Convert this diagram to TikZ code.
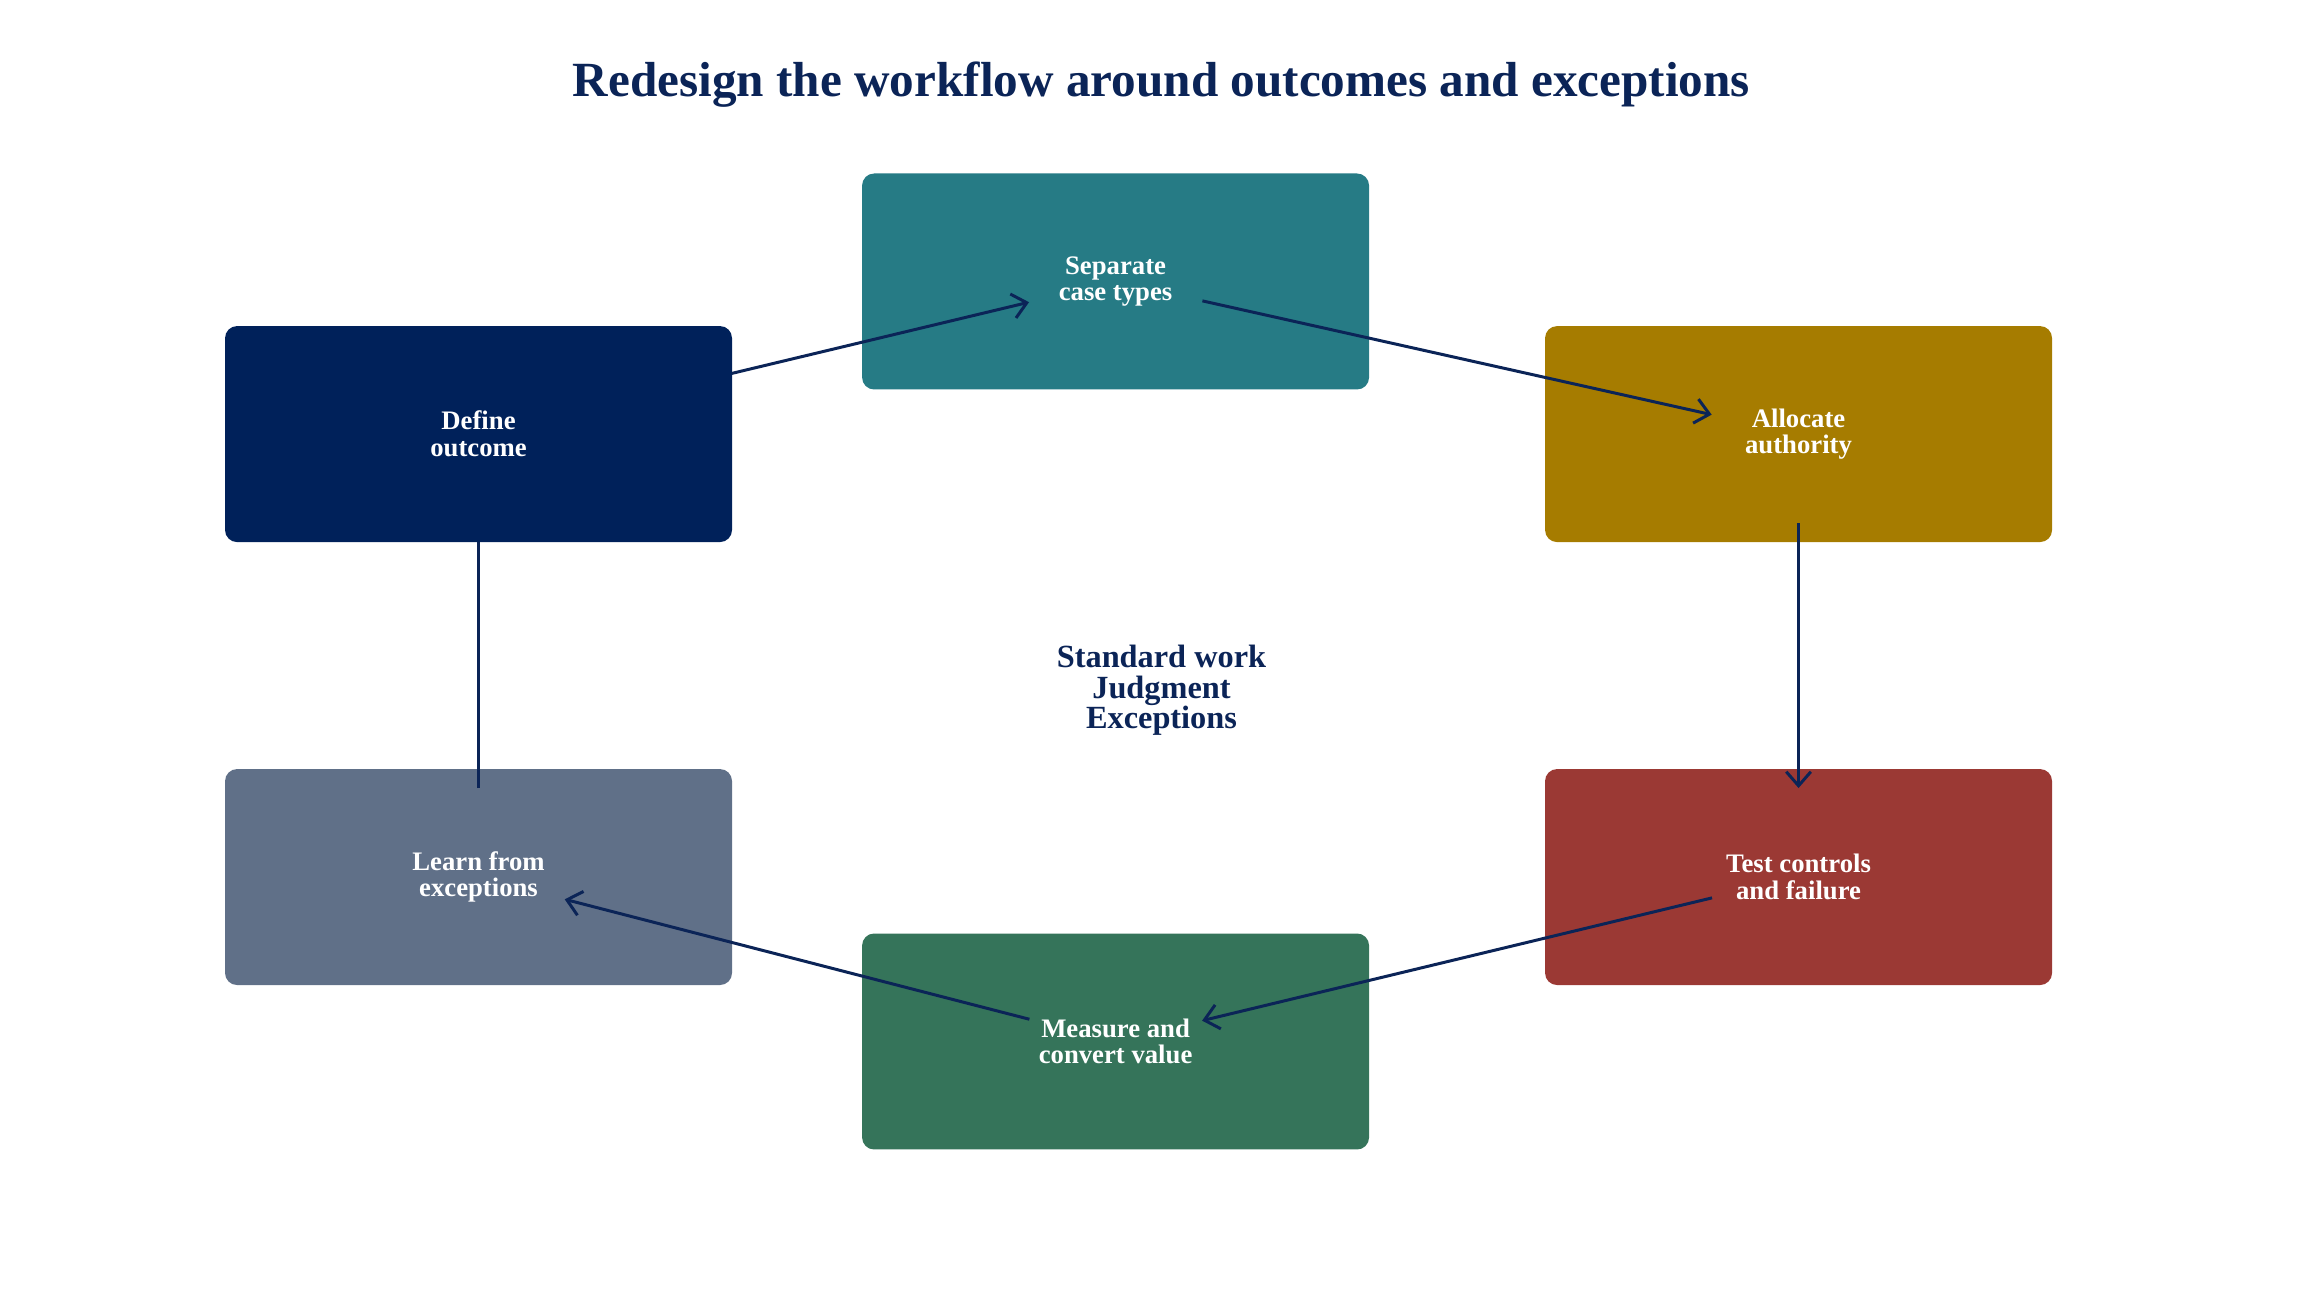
\documentclass[tikz,border=0pt]{standalone}
\usepackage{fontspec}
\setmainfont{Liberation Serif}
\usetikzlibrary{arrows.meta}
\definecolor{navy}{HTML}{00215A}
\definecolor{teal}{HTML}{267B85}
\definecolor{ochre}{HTML}{A67C00}
\definecolor{brick}{HTML}{9B3934}
\definecolor{forest}{HTML}{35745A}
\definecolor{slate}{HTML}{607088}
\definecolor{ink}{HTML}{0B2457}
\pgfdeclarelayer{front}
\pgfsetlayers{main,front}
\begin{document}
\begin{tikzpicture}[x=0.014815cm, y=-0.014815cm,
  stage/.style={rounded corners=0.12cm, minimum width=5.07cm, minimum height=2.16cm,
    text=white, align=center, font=\fontsize{7.6}{7.6}\selectfont\bfseries},
  flow/.style={ink, line width=0.85pt, -{Straight Barb[length=4pt,width=7pt]}, shorten >=0.89cm, shorten <=0.89cm}]
  \useasboundingbox (0,0) rectangle (1568,885);
  \node[ink, font=\fontsize{14}{16}\selectfont\bfseries] (title) at (784,57) {Redesign the workflow around outcomes and exceptions};
  \begin{pgfonlayer}{front}
    \node[stage, fill=navy] (define) at (323,293) {Define\\outcome};
  \end{pgfonlayer}
  \node[stage, fill=teal] (separate) at (753,190) {Separate\\case types};
  \node[stage, fill=ochre] (allocate) at (1214,293) {Allocate\\authority};
  \node[stage, fill=brick] (test) at (1214,592) {Test controls\\and failure};
  \node[stage, fill=forest] (measure) at (753,703) {Measure and\\convert value};
  \node[stage, fill=slate] (learn) at (323,592) {Learn from\\exceptions};
  \node[ink, align=center, font=\fontsize{9.2}{8.6}\selectfont\bfseries] (core) at (784,466) {Standard work\\Judgment\\Exceptions};

  \draw[flow] (define.center) -- (separate.center);
  \draw[flow] (separate.center) -- (allocate.center);
  \draw[flow] (allocate.center) -- (test.center);
  \draw[flow] (test.center) -- (measure.center);
  \draw[flow] (measure.center) -- (learn.center);
  \draw[flow] (learn.center) -- (define.center);
\end{tikzpicture}
\end{document}
